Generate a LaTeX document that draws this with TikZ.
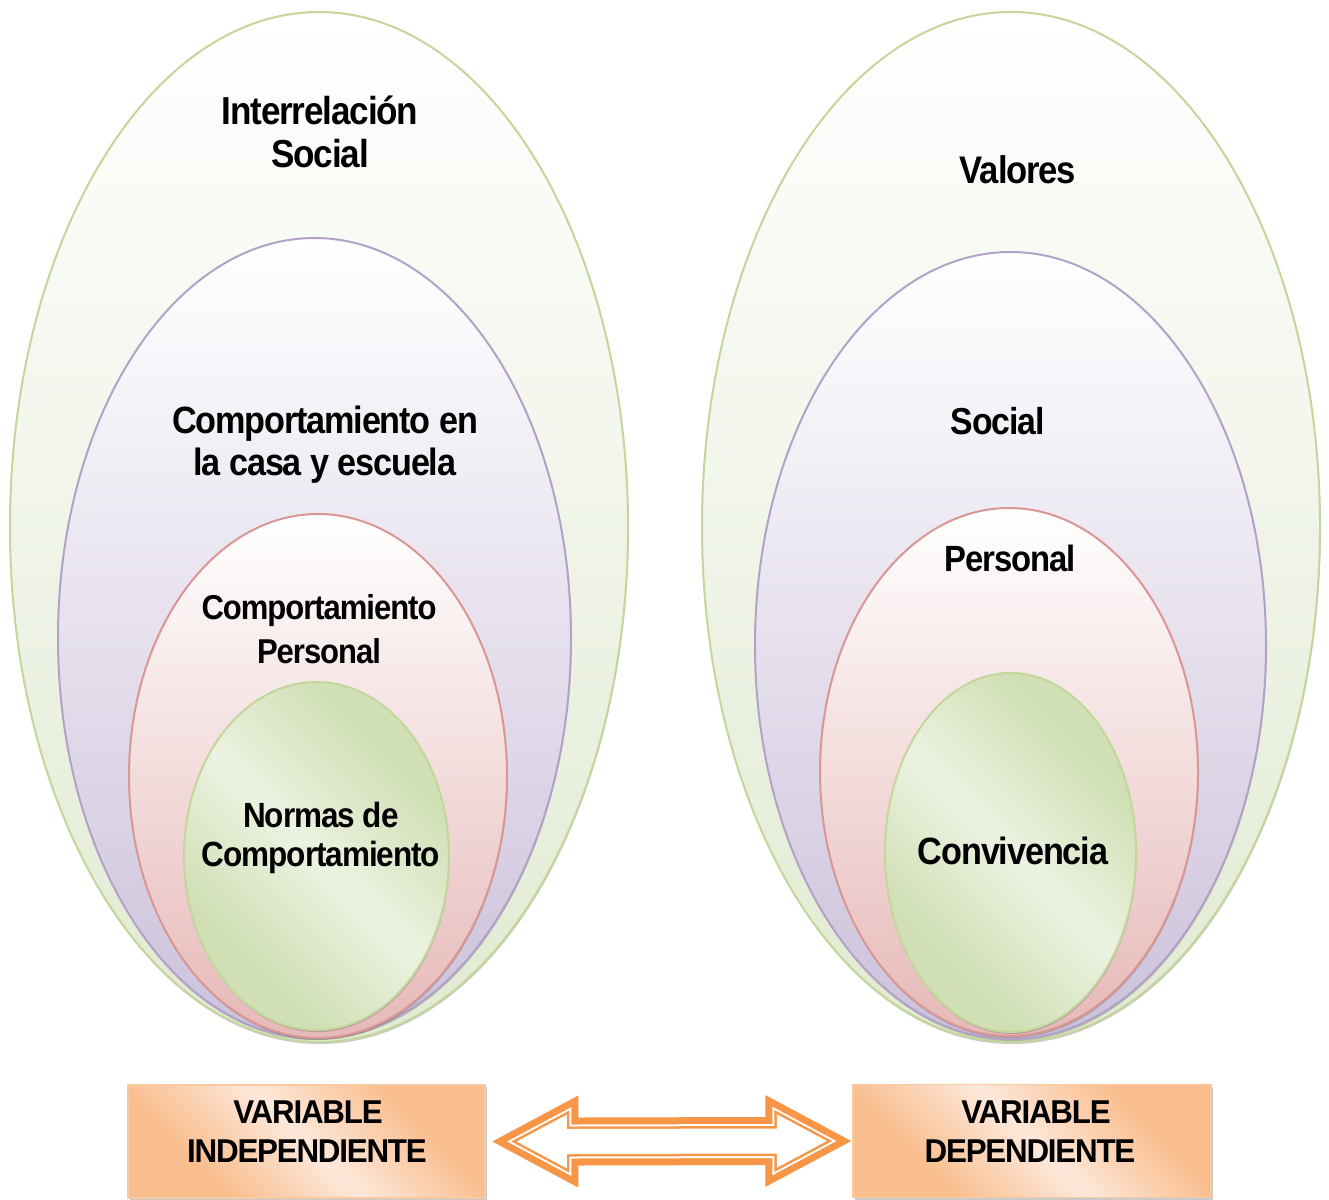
\documentclass[tikz,border=0pt]{standalone}
\usepackage{fontspec}
\setmainfont{Liberation Sans}
\newfontfamily\lblfont[FakeStretch=0.9, LetterSpace=-3]{Liberation Sans}
\newfontfamily\boxfont[FakeStretch=0.95, LetterSpace=-3.7]{Liberation Sans}
\usetikzlibrary{shapes.geometric,shadows,calc}
\definecolor{gStroke}{HTML}{C3D69B}
\definecolor{gBot}{HTML}{E1EAD2}
\definecolor{pStroke}{HTML}{B3A2C7}
\definecolor{pBot}{HTML}{CCC1DB}
\definecolor{rStroke}{HTML}{D99694}
\definecolor{rBot}{HTML}{E6B9B8}
\definecolor{igDark}{HTML}{D0DFB4}
\definecolor{igLight}{HTML}{ECF2E1}
\definecolor{oDark}{HTML}{F9BE8E}
\definecolor{oLight}{HTML}{FDE8DA}
\definecolor{oStroke}{HTML}{F9C9A2}
\definecolor{arrowOr}{HTML}{F79646}
\pgfdeclarehorizontalshading{diagG}{100bp}{color(0bp)=(igDark); color(30bp)=(igDark); color(50bp)=(igLight); color(70bp)=(igDark); color(100bp)=(igDark)}
\pgfdeclarehorizontalshading{diagO}{100bp}{color(0bp)=(oDark); color(30bp)=(oDark); color(50bp)=(oLight); color(70bp)=(oDark); color(100bp)=(oDark)}
\newcommand\fsz[1]{\fontsize{#1}{#1}\selectfont}
\tikzset{
  ell/.style={ellipse, inner sep=0pt, line width=2pt,
    drop shadow={shadow xshift=0.6pt, shadow yshift=-2pt, opacity=0.3, fill=black!70}},
  outerG/.style={ell, draw=gStroke, top color=white, bottom color=gBot},
  purpleE/.style={ell, draw=pStroke, top color=white, bottom color=pBot},
  redE/.style={ell, draw=rStroke, top color=white, bottom color=rBot},
  innerG/.style={ell, draw=gStroke, shading=diagG, shading angle=45},
  lbl/.style={anchor=base, inner sep=0pt},
  vbox/.style={rectangle, draw=oStroke, line width=1.5pt, shading=diagO, shading angle=45,
    minimum height=113, inner sep=0pt,
    drop shadow={shadow xshift=2pt, shadow yshift=-2pt, opacity=0.35, fill=black!60}},
  boxtxt/.style={font=\boxfont\bfseries\fsz{33}, anchor=base, inner sep=0pt},
  arrowpath/.style={insert path={($(aL)+({2.121*#1},0)$) -- ($(aL)+({86-#1},{-46+1.669*#1})$) -- ($(aL)+({86-#1},{-24+#1})$) -- ($(aR)+({-86+#1},{-24+#1})$) -- ($(aR)+({-86+#1},{-46+1.669*#1})$) -- ($(aR)+({-2.121*#1},0)$) -- ($(aR)+({-86+#1},{46-1.669*#1})$) -- ($(aR)+({-86+#1},{24-#1})$) -- ($(aL)+({86-#1},{24-#1})$) -- ($(aL)+({86-#1},{46-1.669*#1})$) -- cycle}}
}
\begin{document}
\begin{tikzpicture}[x=1pt,y=-1pt]
\fill[white] (0,0) rectangle (1329,1199);
\useasboundingbox (0,0) rectangle (1329,1199);
% left nest
\node[outerG, minimum width=618, minimum height=1030] (LA) at (319,527) {};
\node[purpleE, minimum width=513, minimum height=800] (LB) at (314.5,638) {};
\node[redE, minimum width=378, minimum height=524] (LC) at (318,776) {};
\node[innerG, minimum width=265, minimum height=348] (LD) at (316.5,856) {};
% right nest
\node[outerG, minimum width=618, minimum height=1030] (RA) at (1011,527) {};
\node[purpleE, minimum width=511, minimum height=787] (RB) at (1010.5,645.5) {};
\node[redE, minimum width=378, minimum height=528] (RC) at (1009,772) {};
\node[innerG, minimum width=251, minimum height=359] (RD) at (1010.5,852.5) {};
% left labels
\node[lbl, font=\lblfont\bfseries\fsz{39}] (la1) at (320,124) {Interrelación};
\node[lbl, font=\lblfont\bfseries\fsz{39}] (la2) at (320,167) {Social};
\node[lbl, font=\lblfont\bfseries\fsz{38}] (lb1) at (325,433) {Comportamiento en};
\node[lbl, font=\lblfont\bfseries\fsz{38}] (lb2) at (325,475) {la casa y escuela};
\node[lbl, font=\lblfont\bfseries\fsz{34.5}] (lc1) at (319,619) {Comportamiento};
\node[lbl, font=\lblfont\bfseries\fsz{34.5}] (lc2) at (319,663) {Personal};
\node[lbl, font=\lblfont\bfseries\fsz{35}] (ld1) at (321,827) {Normas de};
\node[lbl, font=\lblfont\bfseries\fsz{35}] (ld2) at (321,866) {Comportamiento};
% right labels
\node[lbl, font=\lblfont\bfseries\fsz{38.5}] (ra1) at (1018,183) {Valores};
\node[lbl, font=\lblfont\bfseries\fsz{37.5}] (rb1) at (997.5,434) {Social};
\node[lbl, font=\lblfont\bfseries\fsz{36.5}] (rc1) at (1010.5,571) {Personal};
\node[lbl, font=\lblfont\bfseries\fsz{38}] (rd1) at (1013,864) {Convivencia};
% boxes
\node[vbox, minimum width=357] (vi) at (306.5,1141.5) {};
\node[vbox, minimum width=358] (vd) at (1032,1141) {};
\node[boxtxt] (vi1) at (308,1123) {VARIABLE};
\node[boxtxt] (vi2) at (307,1162) {INDEPENDIENTE};
\node[boxtxt] (vd1) at (1036,1123) {VARIABLE};
\node[boxtxt] (vd2) at (1030,1162) {DEPENDIENTE};
% double arrow
\coordinate (aL) at ($(vi.east)+(6.5,0)$);
\coordinate (aR) at ($(vd.west)+(-1,0)$);
\fill[arrowOr, arrowpath=0];
\fill[white, arrowpath=7];
\fill[arrowOr, arrowpath=9];
\fill[white, arrowpath=11.5];
\end{tikzpicture}
\end{document}
